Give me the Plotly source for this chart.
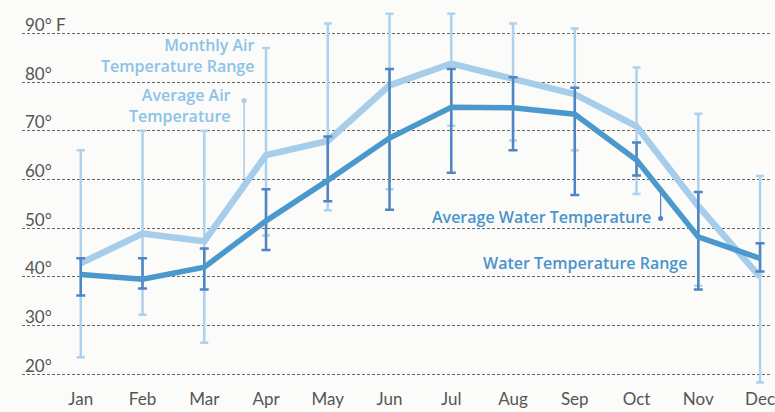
import numpy as np
import plotly.graph_objects as go

months = ["Jan", "Feb", "Mar", "Apr", "May", "Jun", "Jul", "Aug", "Sep", "Oct", "Nov", "Dec"]
air_avg = [42.8, 48.9, 47.3, 65.0, 67.9, 79.3, 83.8, 80.8, 77.5, 70.9, 54.5, 40.0]
air_high = [66.0, 70.0, 70.0, 87.0, 92.0, 94.0, 94.0, 92.0, 91.0, 83.0, 73.5, 60.7]
air_low = [23.5, 32.2, 26.5, 48.5, 53.7, 58.0, 71.0, 68.0, 66.0, 57.0, 38.2, 18.3]
water_avg = [40.5, 39.5, 42.0, 51.5, 59.8, 68.5, 74.8, 74.7, 73.4, 64.0, 48.2, 43.8]
water_high = [43.8, 43.8, 45.8, 58.0, 68.8, 82.7, 82.7, 81.0, 78.8, 67.6, 57.4, 46.9]
water_low = [36.2, 37.6, 37.4, 45.5, 55.5, 53.8, 61.4, 66.0, 56.8, 60.8, 37.4, 41.1]
y_ticks = [90, 80, 70, 60, 50, 40, 30, 20]
y_tick_text = ["90° F", "80°", "70°", "60°", "50°", "40°", "30°", "20°"]

idx = np.arange(len(months))
air_avg_a = np.array(air_avg)
water_avg_a = np.array(water_avg)

LIGHT = "#a6cdea"
LIGHT_BAR = "#aed2ee"
DARK_LINE = "#4b98cc"
DARK_BAR = "#4f85c2"
LIGHT_TEXT = "#8cc3e8"
DARK_TEXT = "#4a94cb"
FONT = "Lato"
LFONT = "Open Sans"

fig = go.Figure()

fig.add_trace(go.Scatter(
    x=idx, y=air_avg, mode="lines", line=dict(width=0, color=LIGHT_BAR),
    error_y=dict(type="data", symmetric=False,
                 array=list(np.array(air_high) - air_avg_a),
                 arrayminus=list(air_avg_a - np.array(air_low)),
                 color=LIGHT_BAR, thickness=2.5, width=4),
    hoverinfo="skip", showlegend=False, cliponaxis=False))

fig.add_trace(go.Scatter(
    x=idx, y=air_avg, mode="lines", line=dict(width=6.5, color=LIGHT),
    showlegend=False, cliponaxis=False))

fig.add_trace(go.Scatter(
    x=idx, y=water_avg, mode="lines", line=dict(width=0, color=DARK_BAR),
    error_y=dict(type="data", symmetric=False,
                 array=list(np.array(water_high) - water_avg_a),
                 arrayminus=list(water_avg_a - np.array(water_low)),
                 color=DARK_BAR, thickness=2.5, width=4.5),
    hoverinfo="skip", showlegend=False, cliponaxis=False))

fig.add_trace(go.Scatter(
    x=idx, y=water_avg, mode="lines", line=dict(width=5.5, color=DARK_LINE),
    showlegend=False, cliponaxis=False))

annotations = []
for v, t in zip(y_ticks, y_tick_text):
    annotations.append(dict(x=0, xref="paper", xanchor="left", xshift=1,
                            y=v, yref="y", yanchor="middle", yshift=9,
                            text=t, showarrow=False,
                            font=dict(family=FONT, size=17, color="#555555")))

def label(text, x, y, color):
    annotations.append(dict(x=x, xref="x", xanchor="right", y=y, yref="y",
                            yanchor="middle", align="right", text=text, showarrow=False,
                            font=dict(family=LFONT, size=16, color=color, weight=600)))

label("Monthly Air<br>Temperature Range", 2.86, 85.45, LIGHT_TEXT)
label("Average Air<br>Temperature", 2.47, 75.1, LIGHT_TEXT)
label("Average Water Temperature", 9.27, 52.35, DARK_TEXT)
label("Water Temperature Range", 9.85, 42.9, DARK_TEXT)

shapes = []
air_lead_x = 2.645
air_lead_top = 76.2
water_lead_x = 9.39
water_lead_bot = 52.0
shapes.append(dict(type="line", xref="x", yref="y", x0=air_lead_x, x1=air_lead_x,
                   y0=air_lead_top, y1=float(np.interp(air_lead_x, idx, air_avg_a)),
                   line=dict(color=LIGHT, width=1.5), layer="below"))
shapes.append(dict(type="line", xref="x", yref="y", x0=water_lead_x, x1=water_lead_x,
                   y0=water_lead_bot, y1=float(np.interp(water_lead_x, idx, water_avg_a)),
                   line=dict(color=DARK_BAR, width=1.2), layer="below"))
for (cx, cy, col) in [(air_lead_x, air_lead_top, LIGHT), (water_lead_x, water_lead_bot, DARK_BAR)]:
    shapes.append(dict(type="circle", xref="x", yref="y", xsizemode="pixel", ysizemode="pixel",
                       xanchor=cx, yanchor=cy, x0=-2.5, x1=2.5, y0=-2.5, y1=2.5,
                       fillcolor=col, line=dict(width=0)))

fig.update_layout(
    width=775, height=412,
    margin=dict(l=22, r=0, t=0, b=25),
    paper_bgcolor="#fbfbf9", plot_bgcolor="#fbfbf9",
    showlegend=False,
    annotations=annotations,
    shapes=shapes,
    xaxis=dict(range=[-0.9516, 11.1935], tickvals=list(idx), ticktext=months,
               showgrid=False, zeroline=False, showline=False, ticks="",
               ticklabeloverflow="allow",
               tickfont=dict(family=FONT, size=17, color="#555555")),
    yaxis=dict(range=[17.39, 96.84], tickvals=y_ticks, showticklabels=False,
               showgrid=True, gridcolor="#666666", gridwidth=1, griddash="3px,2px",
               zeroline=False, showline=False, ticks=""),
)

fig.write_html("out.html", config={"displayModeBar": False},
               post_script="document.body.style.margin='0';document.body.style.background='#fbfbf9';")
